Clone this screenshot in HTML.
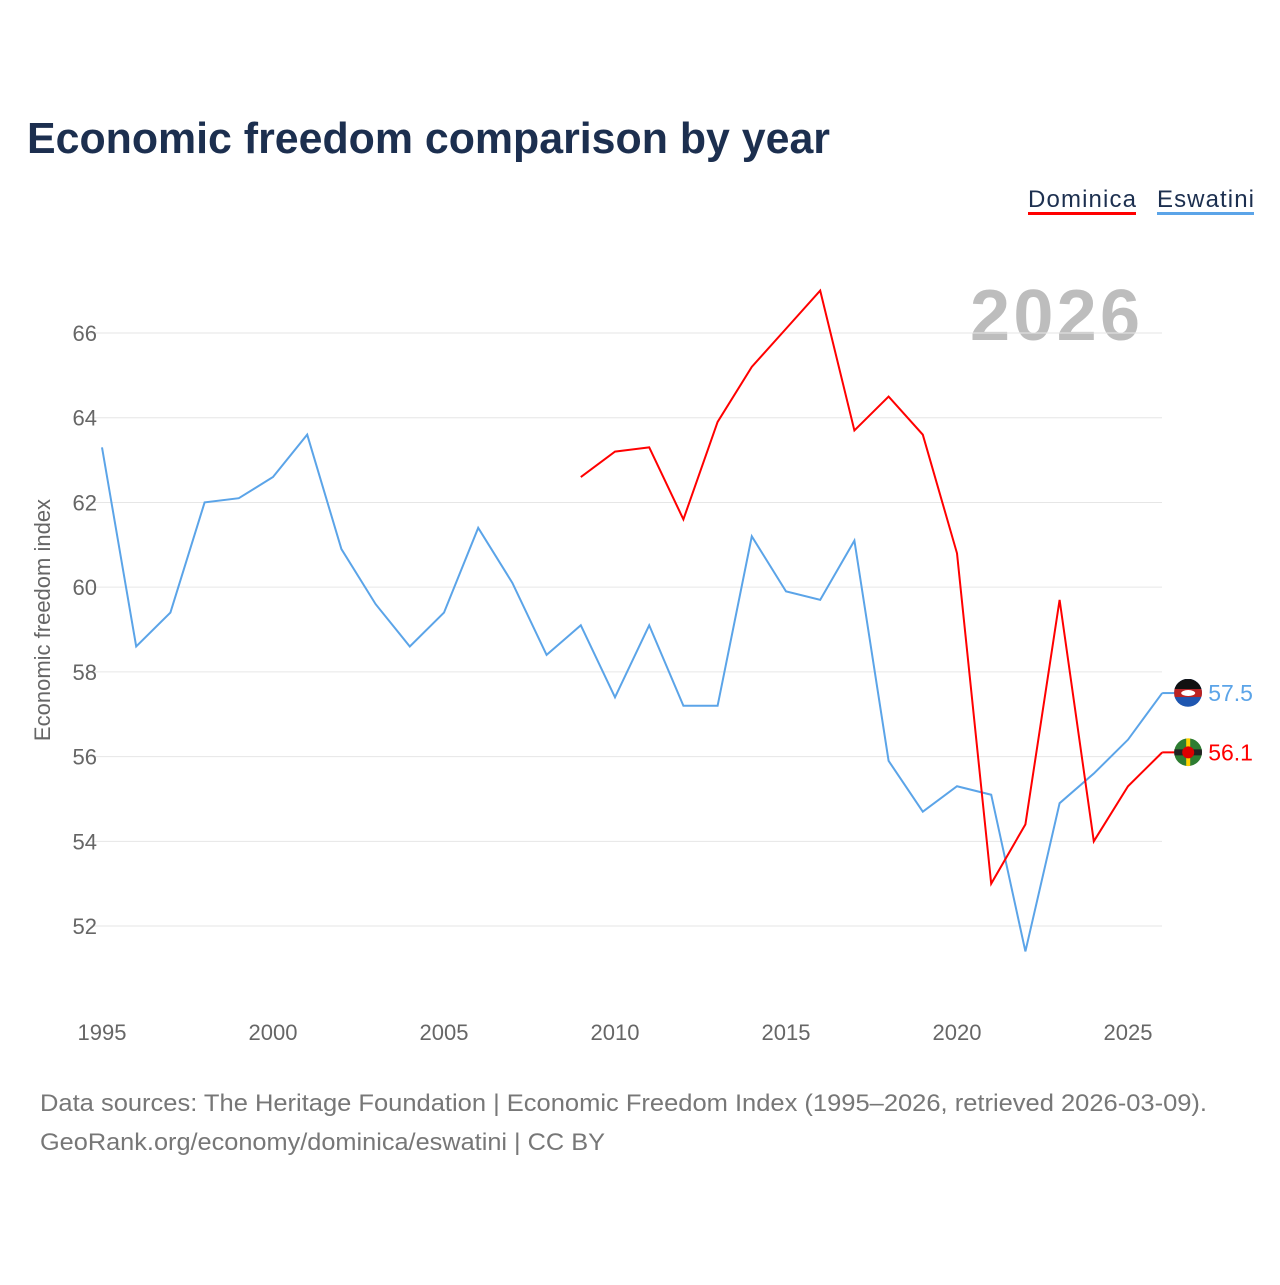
<!DOCTYPE html>
<html><head><meta charset="utf-8"><style>
body{margin:0;background:#fff;font-family:"Liberation Sans",sans-serif}
</style></head><body>
<svg id="chart" width="1280" height="1280" xmlns="http://www.w3.org/2000/svg">
<defs>
<clipPath id="cE"><circle cx="1188" cy="692.8" r="14"/></clipPath>
<clipPath id="cD"><circle cx="1188" cy="752.1" r="14"/></clipPath>
</defs>
<text x="27" y="153" font-size="44" font-weight="bold" fill="#1c2f4f" textLength="803" lengthAdjust="spacingAndGlyphs">Economic freedom comparison by year</text>
<g>
<text x="1028" y="207" font-size="24" fill="#1c2f4f" textLength="108">Dominica</text>
<rect x="1028" y="212" width="108" height="3" fill="#ff0000"/>
<text x="1157" y="207" font-size="24" fill="#1c2f4f" textLength="97">Eswatini</text>
<rect x="1157" y="212" width="97" height="3" fill="#5ba4e8"/>
</g>
<text x="1140" y="340" font-size="72" font-weight="bold" fill="#bdbdbd" text-anchor="end" textLength="170">2026</text>
<text transform="translate(50,620) rotate(-90)" font-size="22" fill="#666" text-anchor="middle">Economic freedom index</text>
<g id="grid"></g><g id="xt"></g><g id="lines"></g>
<text x="40" y="1111" font-size="24" fill="#777" textLength="1167" lengthAdjust="spacingAndGlyphs">Data sources: The Heritage Foundation | Economic Freedom Index (1995–2026, retrieved 2026-03-09).</text>
<text x="40" y="1150" font-size="24" fill="#777" textLength="565" lengthAdjust="spacingAndGlyphs">GeoRank.org/economy/dominica/eswatini | CC BY</text>
</svg>
<script>
const yTicks=[52,54,56,58,60,62,64,66];
const xTicks=[1995,2000,2005,2010,2015,2020,2025];
const eswYears=[1995,1996,1997,1998,1999,2000,2001,2002,2003,2004,2005,2006,2007,2008,2009,2010,2011,2012,2013,2014,2015,2016,2017,2018,2019,2020,2021,2022,2023,2024,2025,2026];
const eswValues=[63.3,58.6,59.4,62.0,62.1,62.6,63.6,60.9,59.6,58.6,59.4,61.4,60.1,58.4,59.1,57.4,59.1,57.2,57.2,61.2,59.9,59.7,61.1,55.9,54.7,55.3,55.1,51.4,54.9,55.6,56.4,57.5];
const domYears=[2009,2010,2011,2012,2013,2014,2015,2016,2017,2018,2019,2020,2021,2022,2023,2024,2025,2026];
const domValues=[62.6,63.2,63.3,61.6,63.9,65.2,66.1,67.0,63.7,64.5,63.6,60.8,53.0,54.4,59.7,54.0,55.3,56.1];
const NS="http://www.w3.org/2000/svg";
const X=y=>102+(y-1995)*34.2;
const Y=v=>333+(66-v)*42.36;
function mk(t,a,p){const e=document.createElementNS(NS,t);for(const k in a)e.setAttribute(k,a[k]);document.getElementById(p).appendChild(e);return e;}
yTicks.forEach(v=>{
 const l=mk('line',{x1:90,x2:1162,y1:Y(v),y2:Y(v),stroke:'#e6e6e6','stroke-width':1},'grid');
 
 
 const t=mk('text',{x:97,y:Y(v)+8,'font-size':22,fill:'#666','text-anchor':'end'},'grid');t.textContent=v;
 
 
});
xTicks.forEach(v=>{
 const t=mk('text',{x:X(v),y:1040,'font-size':22,fill:'#666','text-anchor':'middle'},'xt');t.textContent=v;
 
 
});
function series(ys,vs,c,name){
 const p=mk('polyline',{points:ys.map((y,i)=>X(y)+','+Y(vs[i])).join(' '),fill:'none',stroke:c,'stroke-width':2},'lines');
 
 
 const ly=ys[ys.length-1],lv=vs[vs.length-1];
 const ln=mk('line',{x1:X(ly),x2:X(ly)+14,y1:Y(lv),y2:Y(lv),stroke:c,'stroke-width':2},'lines');
 
 
 const cx=X(ly)+26,cy=Y(lv);
 const g=mk('g',{'clip-path':name==='dominica'?'url(#cD)':'url(#cE)'},'lines');
 
 
 g.id=name+'-flag';
 if(name==='dominica'){
  mk('circle',{cx:cx,cy:cy,r:14,fill:'#2e7d32'},g.id);
  mk('rect',{x:cx-14,y:cy-3,width:28,height:6,fill:'#222'},g.id);
  mk('rect',{x:cx-2,y:cy-14,width:4,height:28,fill:'#ffd200'},g.id);
  mk('circle',{cx:cx,cy:cy,r:6,fill:'#d00'},g.id);
 }else{
  mk('rect',{x:cx-14,y:cy-14,width:28,height:28,fill:'#1e56b0'},g.id);
  mk('rect',{x:cx-14,y:cy-14,width:28,height:10,fill:'#111'},g.id);
  mk('rect',{x:cx-14,y:cy-4,width:28,height:8,fill:'#b22'},g.id);
  mk('ellipse',{cx:cx,cy:cy,rx:7,ry:3,fill:'#fff'},g.id);
 }
 const t=mk('text',{x:cx+20,y:cy+8,'font-size':23,fill:c},'lines');t.textContent=lv.toFixed(1);
 
 
}
series(eswYears,eswValues,'#5ba4e8','eswatini');
series(domYears,domValues,'#ff0000','dominica');
</script>
</body></html>
